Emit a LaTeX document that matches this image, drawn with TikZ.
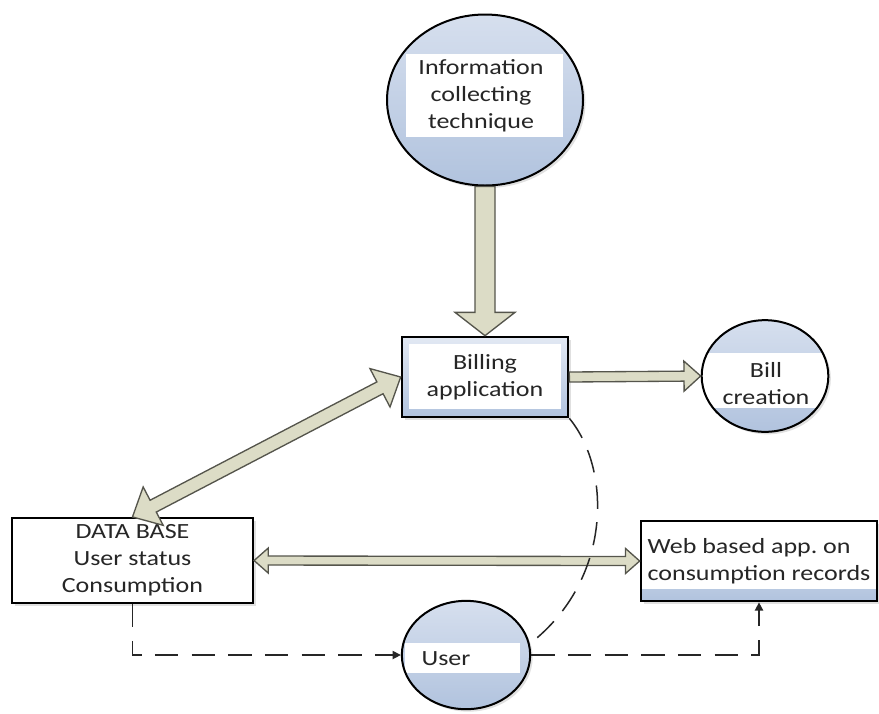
\documentclass[tikz,border=0pt]{standalone}
\usepackage{fontspec}
\setmainfont{Carlito}[FakeStretch=1.2]
\usetikzlibrary{shapes.geometric, calc, arrows.meta, shadows}

\definecolor{circtop}{HTML}{D6DFEE}
\definecolor{circbot}{HTML}{B1C3DE}
\definecolor{arrowfill}{HTML}{DCDCC6}
\definecolor{arrowline}{HTML}{55554C}
\definecolor{inkgray}{HTML}{262626}

\tikzset{
 lbl/.style={align=center, text=inkgray, font=\fontsize{13}{16.2}\selectfont},
 softshadow/.style={drop shadow={shadow xshift=1.5pt, shadow yshift=-1.5pt, opacity=0.2, fill=black!60}},
 circ/.style n args={4}{ellipse, draw=black, line width=1.2pt, top color=circtop, bottom color=circbot, softshadow,
  path picture={\fill[white] ([shift={(#1,#2)}]path picture bounding box.center) rectangle ([shift={(#3,#4)}]path picture bounding box.center);}},
 panel/.style 2 args={draw=black, line width=1.6pt, top color=circtop!70, bottom color=circbot, softshadow, lbl,
  path picture={\fill[white] ([shift={(#1,-#1)}]path picture bounding box.north west) rectangle ([shift={(-#1,#2)}]path picture bounding box.south east);}},
 dbbox/.style={draw=black, line width=1.3pt, fill=white, softshadow, lbl},
 fatarrow/.style={fill=arrowfill, draw=arrowline, line width=0.8pt, line join=miter},
 dashline/.style={draw=black!85, line width=0.9pt, dash pattern=on 14pt off 8pt}
}

% block arrow: from, tip, half shaft, half head, head length
\newcommand{\fatone}[5]{%
 \path ($(#2)!#5!(#1)$) coordinate (tmpa);
 \filldraw[fatarrow] ($(#1)!#3!90:(#2)$) -- ($(tmpa)!#3!90:(#2)$) -- ($(tmpa)!#4!90:(#2)$) -- (#2)
  -- ($(tmpa)!#4!-90:(#2)$) -- ($(tmpa)!#3!-90:(#2)$) -- ($(#1)!#3!-90:(#2)$) -- cycle;}
% block arrow with a head on both ends
\newcommand{\fattwo}[5]{%
 \path ($(#2)!#5!(#1)$) coordinate (tmpa) ($(#1)!#5!(#2)$) coordinate (tmpb);
 \filldraw[fatarrow] (#1) -- ($(tmpb)!#4!90:(#2)$) -- ($(tmpb)!#3!90:(#2)$) -- ($(tmpa)!#3!90:(#2)$)
  -- ($(tmpa)!#4!90:(#2)$) -- (#2) -- ($(tmpa)!#4!-90:(#2)$) -- ($(tmpa)!#3!-90:(#2)$)
  -- ($(tmpb)!#3!-90:(#2)$) -- ($(tmpb)!#4!-90:(#2)$) -- cycle;}

\begin{document}
\begin{tikzpicture}[x=0.6pt, y=-0.6pt]
 \useasboundingbox (0,0) rectangle (879,713);

 % circles with a white band behind the text
 \node[circ={-47.4pt}{27.6pt}{46.8pt}{-22.2pt}, minimum width=117.6pt, minimum height=102.6pt] (info) at (485,100) {};
 \node[lbl] (info-t) at (481,96) {Information\\collecting\\technique};
 \node[circ={-45pt}{13.8pt}{45pt}{-19.2pt}, minimum width=76pt, minimum height=67pt] (bill) at (765,376) {};
 \node[lbl] (bill-t) at (766,384) {Bill\\creation};
 \node[circ={-36.6pt}{7.2pt}{32.4pt}{-10.8pt}, minimum width=77pt, minimum height=65pt] (user) at (466,655) {};
 \node[lbl] (user-t) at (446,659) {User};

 % boxes
 \node[panel={4pt}{5pt}, minimum width=99.6pt, minimum height=48pt] (billing) at (485,377) {Billing\\application};
 \node[dbbox, minimum width=144.6pt, minimum height=51pt] (db) at (132.5,560.5) {DATA BASE\\User status\\Consumption};
 \node[panel={0.5pt}{7pt}, minimum width=141.6pt, minimum height=48pt, align=left] (web) at (759,561)
  {Web based app.\ on\\consumption records};

 % block arrows
 \fatone{info.south}{billing.north}{6pt}{18pt}{14pt}
 \fatone{billing.east}{bill.west}{3pt}{9pt}{10pt}
 \fattwo{db.north}{billing.west}{4pt}{13pt}{14pt}
 \fattwo{db.east}{web.west}{2.7pt}{7.5pt}{8.5pt}

 % dashed links
 \draw[dashline, -{Triangle[length=5pt, width=5pt]}] (db.south) |- (user.west);
 \draw[dashline, -{Triangle[length=5pt, width=5pt]}] (user.east) -| (web.south);
 \draw[dashline] (billing.south east) .. controls (612,470) and (612,580) .. (user.10);
\end{tikzpicture}
\end{document}
